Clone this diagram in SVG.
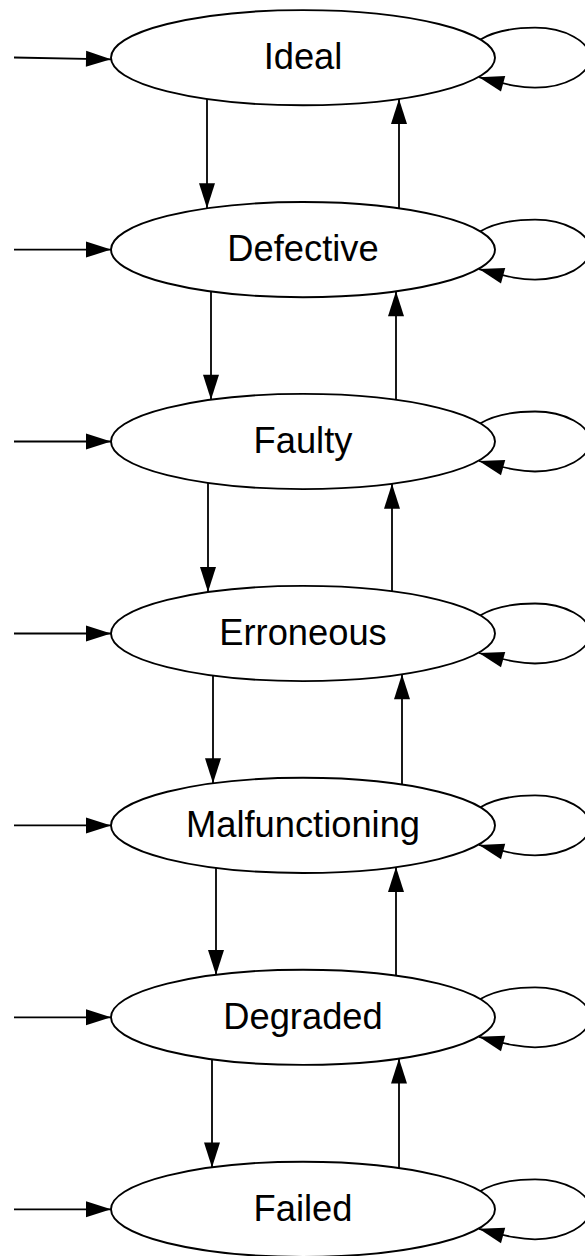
<svg xmlns="http://www.w3.org/2000/svg" width="585" height="1256" viewBox="0 0 585 1256">
<style>
.node ellipse{fill:#fff;stroke:#000;stroke-width:1.9}
.node text{font-family:"Liberation Sans",Arial,sans-serif;font-size:36.3px;text-anchor:middle;fill:#000}
.edge{fill:none;stroke:#000;stroke-width:1.8;marker-end:url(#arr)}
</style>
<defs>
<marker id="arr" markerUnits="userSpaceOnUse" markerWidth="26" markerHeight="17" refX="25" refY="8" orient="auto" overflow="visible">
<path d="M0,0 L25,8 L0,16 Z" fill="#000"/>
</marker>
</defs>
<rect width="585" height="1256" fill="#fff"/>
<g id="connectors">
<path class="edge" d="M14,57.5 L111,59.3"/>
<path class="edge" d="M14,249.6 L111,249.6"/>
<path class="edge" d="M14,441.5 L111,441.5"/>
<path class="edge" d="M14,633.5 L111,633.5"/>
<path class="edge" d="M14,825.4 L111,825.4"/>
<path class="edge" d="M14,1017.3 L111,1017.3"/>
<path class="edge" d="M14,1209.3 L111,1209.3"/>
<path class="edge" d="M207,99 L207,208.3"/>
<path class="edge" d="M211,291.4 L211,399.7"/>
<path class="edge" d="M208,482.9 L208,592.1"/>
<path class="edge" d="M213,675.6 L213,783.3"/>
<path class="edge" d="M216,867.8 L216,974.9"/>
<path class="edge" d="M212,1059.2 L212,1167.4"/>
<path class="edge" d="M399,208.4 L399,98.9"/>
<path class="edge" d="M396,399.8 L396,291.3"/>
<path class="edge" d="M392,591.3 L392,483.7"/>
<path class="edge" d="M402,784.7 L402,674.2"/>
<path class="edge" d="M396,975.6 L396,867.1"/>
<path class="edge" d="M399,1168.1 L399,1058.5"/>
<path class="edge" d="M480,39.7 C495,30.7 515,27.7 535,27.7 C565,27.7 590,41.7 590,57.7 C590,73.7 565,87.7 535,87.7 C522,87.7 510,85.7 479,77.2"/>
<path class="edge" d="M480,231.6 C495,222.6 515,219.6 535,219.6 C565,219.6 590,233.6 590,249.6 C590,265.6 565,279.6 535,279.6 C522,279.6 510,277.6 479,269.1"/>
<path class="edge" d="M480,423.5 C495,414.5 515,411.5 535,411.5 C565,411.5 590,425.5 590,441.5 C590,457.5 565,471.5 535,471.5 C522,471.5 510,469.5 479,461"/>
<path class="edge" d="M480,615.5 C495,606.5 515,603.5 535,603.5 C565,603.5 590,617.5 590,633.5 C590,649.5 565,663.5 535,663.5 C522,663.5 510,661.5 479,653"/>
<path class="edge" d="M480,807.4 C495,798.4 515,795.4 535,795.4 C565,795.4 590,809.4 590,825.4 C590,841.4 565,855.4 535,855.4 C522,855.4 510,853.4 479,844.9"/>
<path class="edge" d="M480,999.3 C495,990.3 515,987.3 535,987.3 C565,987.3 590,1001.3 590,1017.3 C590,1033.3 565,1047.3 535,1047.3 C522,1047.3 510,1045.3 479,1036.8"/>
<path class="edge" d="M480,1191.3 C495,1182.3 515,1179.3 535,1179.3 C565,1179.3 590,1193.3 590,1209.3 C590,1225.3 565,1239.3 535,1239.3 C522,1239.3 510,1237.3 479,1228.8"/>
</g>
<g id="ideal" class="node"><ellipse cx="303" cy="57.7" rx="192" ry="47.6"/><text x="303" y="69">Ideal</text></g>
<g id="defective" class="node"><ellipse cx="303" cy="249.6" rx="192" ry="47.6"/><text x="303" y="260.9">Defective</text></g>
<g id="faulty" class="node"><ellipse cx="303" cy="441.5" rx="192" ry="47.6"/><text x="303" y="452.8">Faulty</text></g>
<g id="erroneous" class="node"><ellipse cx="303" cy="633.5" rx="192" ry="47.6"/><text x="303" y="644.8">Erroneous</text></g>
<g id="malfunctioning" class="node"><ellipse cx="303" cy="825.4" rx="192" ry="47.6"/><text x="303" y="836.7">Malfunctioning</text></g>
<g id="degraded" class="node"><ellipse cx="303" cy="1017.3" rx="192" ry="47.6"/><text x="303" y="1028.6">Degraded</text></g>
<g id="failed" class="node"><ellipse cx="303" cy="1209.3" rx="192" ry="47.6"/><text x="303" y="1220.6">Failed</text></g>
</svg>
